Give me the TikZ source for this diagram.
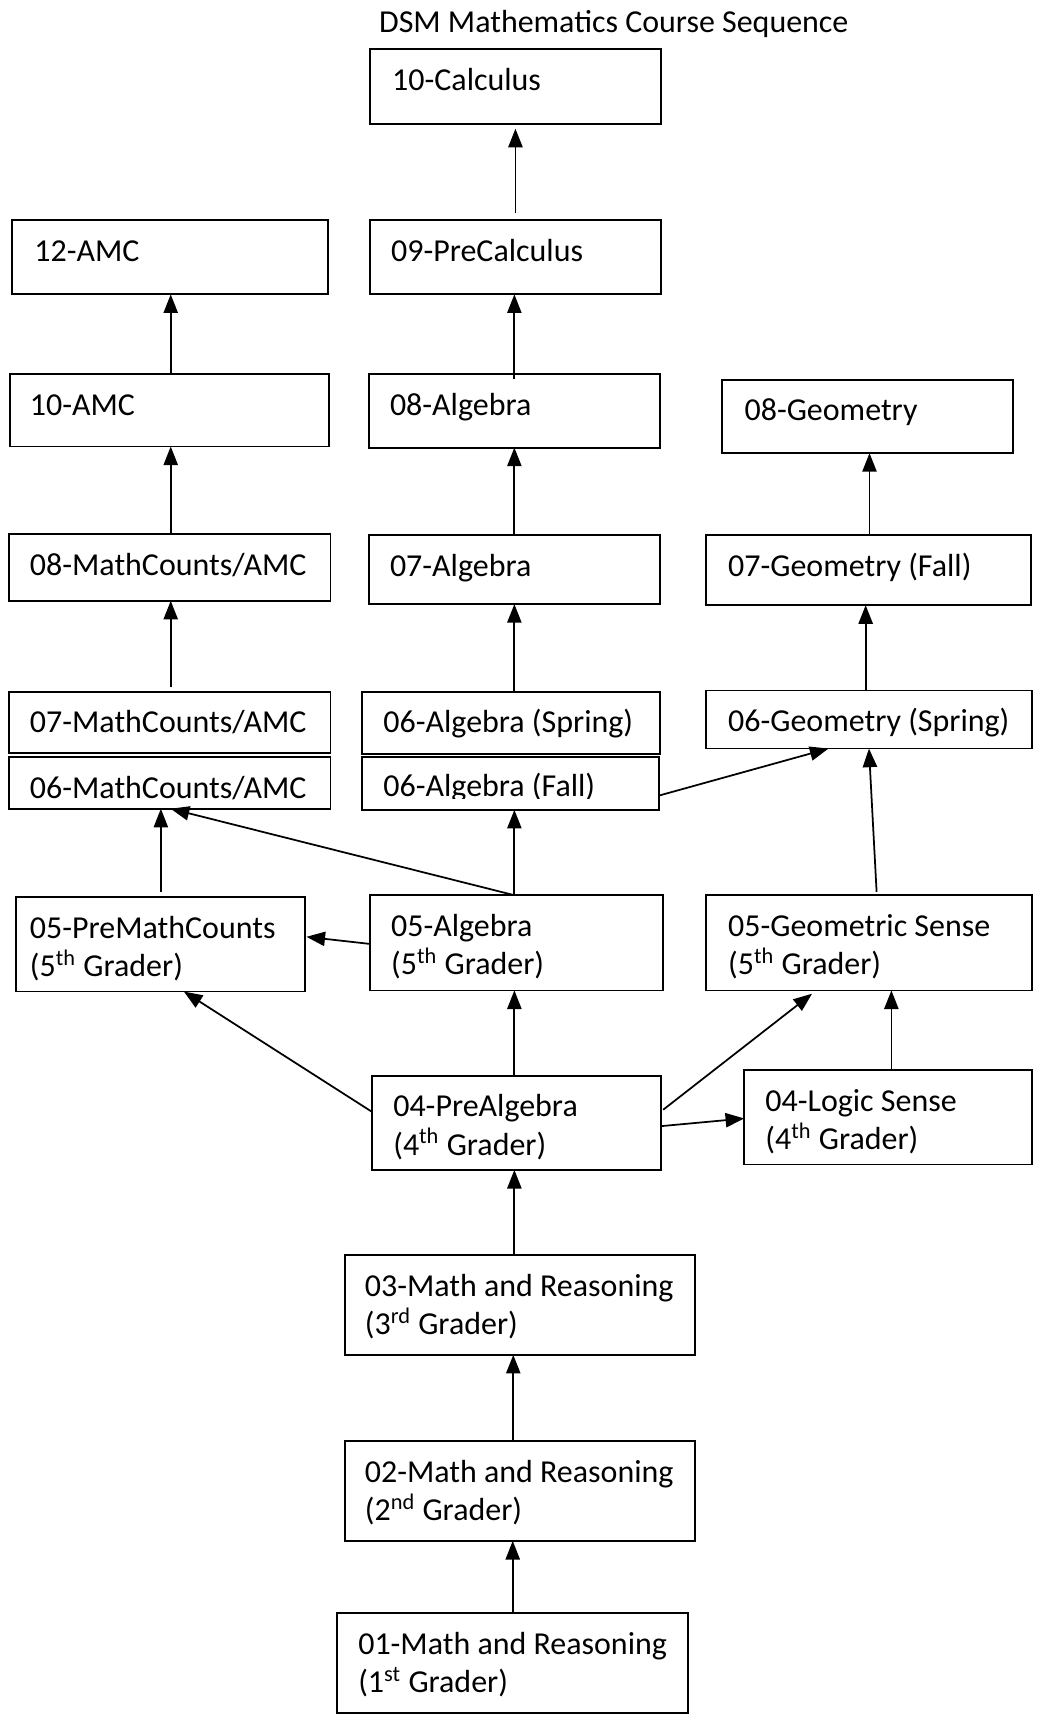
\documentclass[tikz,border=0pt]{standalone}
\usepackage{fontspec}
\setmainfont{Carlito}
\usetikzlibrary{arrows.meta,calc}
\tikzset{
  boxst/.style={draw, line width=0.85pt, inner sep=0pt, outer sep=0pt, rectangle},
  txtst/.style={inner sep=0pt, anchor=base west, font=\fontsize{14.6}{17.6}\selectfont},
  arr/.style={line width=0.8pt, -{Triangle[length=8.5pt,width=6.5pt]}},
}
\newcommand\twol[2]{\vtop{\hbox{#1}\hbox{#2}}}
\newcommand\cbox[7]{%
  \node[boxst, minimum width={(#4-#2)*0.5pt}, minimum height={(#5-#3)*0.5pt}] (#1) at ({(#2+#4)/2},{(#3+#5)/2}) {};
  \node[txtst] at ($(#1.north west)+(#6,37.5)$) {#7};
}
\newcommand\vup[4]{%
  \draw[arr,#4] ($(#1.north)+(#3,0)$) coordinate (tmp) -- (tmp |- #2.south);
}
\begin{document}
\begin{tikzpicture}[x=0.5pt,y=-0.5pt]
\useasboundingbox (0,0) rectangle (948,1568);
\node[txtst] (title) at (346,30) {DSM Mathematics Course Sequence};

\cbox{calc}{338}{45}{604}{113}{20}{10-Calculus}
\cbox{amc12}{11}{201}{300}{269}{20}{12-AMC}
\cbox{precalc}{338}{201}{604}{269}{19}{09-PreCalculus}
\cbox{amc10}{9}{342}{301}{408}{18}{10-AMC}
\cbox{alg8}{337}{342}{603}{409}{19}{08-Algebra}
\cbox{geo8}{660}{347}{926}{414}{20}{08-Geometry}
\cbox{mc8}{8}{488}{302}{549}{19}{08-MathCounts/AMC}
\cbox{alg7}{337}{489}{603}{552}{19}{07-Algebra}
\cbox{geo7}{645}{489}{942}{553}{20}{07-Geometry (Fall)}
\cbox{mc7}{8}{632}{302}{688}{19}{07-MathCounts/AMC}
\cbox{mc6}{8}{692}{302}{739}{19}{06-MathCounts/AMC}
\cbox{alg6s}{331}{632}{603}{689}{19}{06-Algebra (Spring)}
\node[boxst, minimum width={(602-331)*0.5pt}, minimum height={(740-692)*0.5pt}] (alg6f) at ({(331+602)/2},{(692+740)/2}) {};
\begin{scope}
  \clip (331,692) rectangle (602,730);
  \node[txtst] (alg6ftext) at ($(alg6f.north west)+(19,35.5)$) {06-Algebra (Fall)};
\end{scope}
\cbox{geo6}{645}{631}{943}{684}{20}{06-Geometry (Spring)}
\cbox{premc5}{15}{820}{279}{906}{12}{\twol{05-PreMathCounts}{(5\textsuperscript{th} Grader)}}
\cbox{alg5}{338}{818}{606}{905}{19}{\twol{05-Algebra}{(5\textsuperscript{th} Grader)}}
\cbox{gs5}{645}{818}{943}{905}{20}{\twol{05-Geometric Sense}{(5\textsuperscript{th} Grader)}}
\cbox{pa4}{340}{983}{604}{1069}{19}{\twol{04-PreAlgebra}{(4\textsuperscript{th} Grader)}}
\cbox{logic4}{680}{978}{943}{1064}{19}{\twol{04-Logic Sense}{(4\textsuperscript{th} Grader)}}
\cbox{mr3}{315}{1147}{635}{1238}{18}{\twol{03-Math and Reasoning}{(3\textsuperscript{rd} Grader)}}
\cbox{mr2}{315}{1317}{635}{1408}{18}{\twol{02-Math and Reasoning}{(2\textsuperscript{nd} Grader)}}
\cbox{mr1}{308}{1474}{629}{1565}{19}{\twol{01-Math and Reasoning}{(1\textsuperscript{st} Grader)}}

\vup{precalc}{calc}{0}{shorten <=3pt, shorten >=2.3pt}
\vup{amc10}{amc12}{1}{}
\vup{alg8}{precalc}{0}{shorten <=-2pt}
\vup{geo7}{geo8}{1}{}
\vup{mc8}{amc10}{1}{}
\vup{alg7}{alg8}{0}{}
\vup{geo6}{geo7}{-3}{}
\vup{mc7}{mc8}{1}{shorten <=2pt}
\vup{alg6s}{alg7}{3}{}
\vup{premc5}{mc6}{0}{shorten <=2.5pt}
\vup{alg5}{alg6f}{-2}{}
\vup{pa4}{alg5}{-2}{}
\vup{logic4}{gs5}{3}{}
\vup{mr3}{pa4}{-5}{}
\vup{mr2}{mr3}{-6}{}
\vup{mr1}{mr2}{0}{}

\draw[arr] ($(alg6f.east)+(0,11)$) -- ($(geo6.south)+(-37,0)$);
\draw[arr] ($(gs5.north)+(7,-3)$) -- (geo6.south);
\draw[arr] ($(alg5.north)+(-2,0)$) -- ($(mc6.south)+(1,0)$);
\draw[arr] ($(alg5.west)+(0,1)$) -- ($(premc5.east)+(1,-7)$);
\draw[arr] ($(pa4.west)+(0,-10)$) -- ($(premc5.south)+(21,0)$);
\draw[arr] ($(pa4.east)+(2,-12)$) -- ($(gs5.south)+(-52,3)$);
\draw[arr] ($(pa4.east)+(0,3)$) -- ($(logic4.west)+(0,1)$);
\end{tikzpicture}
\end{document}
